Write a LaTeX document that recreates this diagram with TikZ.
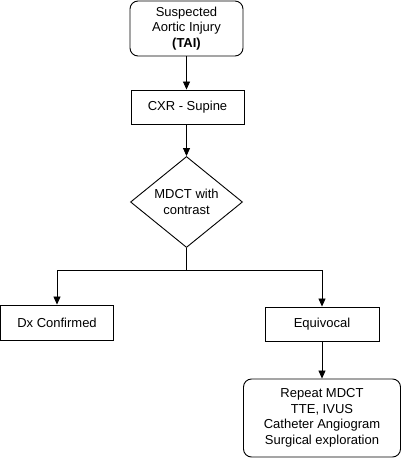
\documentclass[tikz,border=0pt]{standalone}
\usepackage{fontspec}
\setmainfont{Liberation Sans}
\usetikzlibrary{shapes.geometric,arrows.meta}
\begin{document}
\begin{tikzpicture}[x=1pt,y=-1pt,
  every node/.style={font=\fontsize{13}{15.5}\selectfont, align=center, inner sep=0pt, line width=0.9pt},
  box/.style={draw, rectangle},
  rbox/.style={draw, rectangle, rounded corners=8pt},
  dec/.style={draw, diamond},
  conn/.style={draw, line width=0.8pt, -{Triangle[length=8pt,width=7pt]}},
  plain/.style={draw, line width=0.8pt}]
\useasboundingbox (0,0) rectangle (403,458);
\fill[white] (0,0) rectangle (403,458);
\node[rbox, minimum width=113pt, minimum height=55pt] (top) at (186.5,28.5) {Suspected\\Aortic Injury\\\textbf{(TAI)}};
\node[box, minimum width=113pt, minimum height=34pt] (cxr) at (187.5,107) {CXR - Supine};
\node[dec, minimum width=112pt, minimum height=91pt] (dia) at (186.5,202) {MDCT with\\contrast};
\node[box, minimum width=113pt, minimum height=35pt] (dx) at (57,322.5) {Dx Confirmed};
\node[box, minimum width=114pt, minimum height=34pt] (eq) at (322,324) {Equivocal};
\node[rbox, minimum width=157pt, minimum height=78pt] (fin) at (322,418) {Repeat MDCT\\TTE, IVUS\\Catheter Angiogram\\Surgical exploration};
\coordinate (split) at (186.5,270);
\path[conn] (top.south) -- (top.south |- cxr.north);
\path[conn] (cxr.south -| dia.north) -- (dia.north);
\path[plain] (dia.south) -- (split);
\path[conn] (split) -| (dx.north);
\path[conn] (split) -| (eq.north);
\path[conn] (eq.south) -- (fin.north);
\end{tikzpicture}
\end{document}
